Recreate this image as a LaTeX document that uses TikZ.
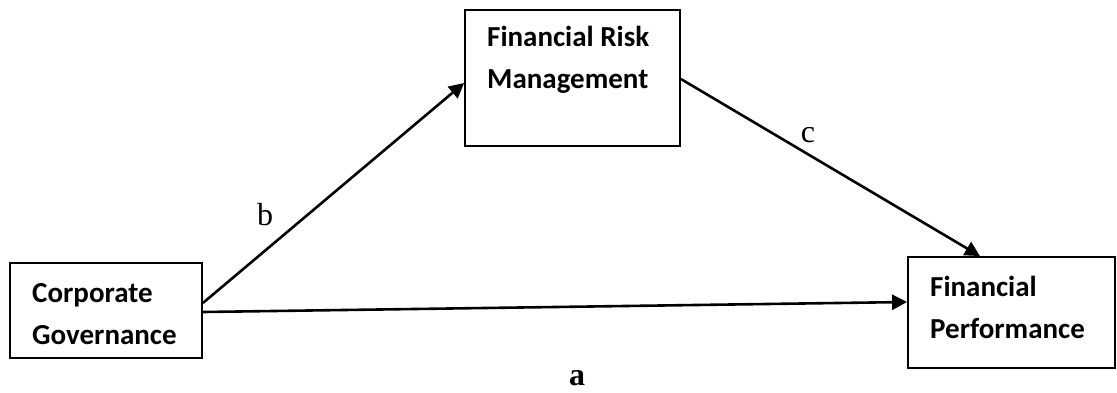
\documentclass[tikz,border=0pt]{standalone}
\usepackage{fontspec}
\usepackage{tikz}
\usetikzlibrary{arrows.meta,calc,positioning}
\newfontfamily\calibrifont{Carlito}
\newfontfamily\timesfont{Liberation Serif}
\newcommand{\boxfont}{\calibrifont\bfseries\fontsize{29}{42}\selectfont}
\newcommand{\lblfont}{\timesfont\fontsize{32}{36}\selectfont}
\tikzset{
  varbox/.style = {draw, rectangle, line width=1.8pt, inner sep=0pt},
  vartext/.style = {align=left, anchor=west, inner sep=0pt, font=\boxfont},
  pathlbl/.style = {inner sep=0pt, font=\lblfont}
}

\begin{document}
\begin{tikzpicture}[x=1pt,y=-1pt,
        link/.style={line width=2.6pt, -{Triangle[length=15pt,width=15pt]}}]
    \useasboundingbox (0,0) rectangle (1117,392);
    % boxes
    \node [varbox, minimum width=192pt, minimum height=95pt] (cg) at (106,310.5) {};
    \node [varbox, minimum width=215pt, minimum height=136pt] (frm) at (572.5,78) {};
    \node [varbox, minimum width=207pt, minimum height=111pt] (fp) at (1011.5,312.5) {};
    \node [vartext] (cgtext) at (32,314) {Corporate\\Governance};
    \node [vartext] (frmtext) at (487,60) {Financial Risk\\Management};
    \node [vartext] (fptext) at (930,307) {Financial\\Performance};
    % paths
    \draw [link] ([yshift=7.5pt]cg.east) -- ([yshift=-5pt]frm.west);
    \draw [link] ([yshift=-1.5pt]cg.east) -- ([yshift=10.5pt]fp.west);
    \draw [link] ([yshift=-1pt]frm.east) -- ([xshift=-31.5pt]fp.north);
    \node [pathlbl] (lblb) at (265,215) {b};
    \node [pathlbl] (lblc) at (808,135) {c};
    \node [pathlbl, font=\lblfont\bfseries] (lbla) at (577,378) {a};
\end{tikzpicture}
\end{document}
